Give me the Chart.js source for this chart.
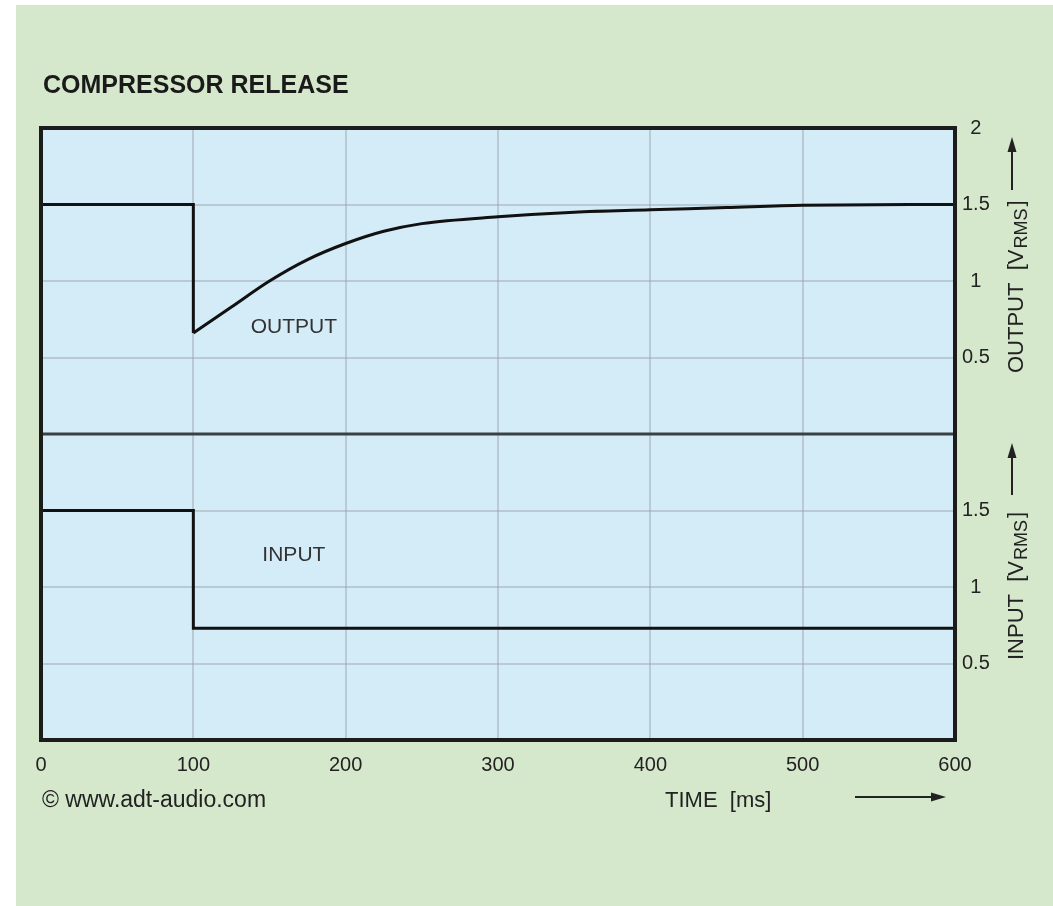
<!DOCTYPE html>
<html>
<head>
<meta charset="utf-8">
<script src="https://cdn.jsdelivr.net/npm/chart.js@4.4.1/dist/chart.umd.min.js"></script>
<style>
  html, body { margin: 0; padding: 0; background: #ffffff; }
  #panel { position: absolute; left: 16px; top: 5px; right: 0; bottom: 0; background: #d6e8cc; }
  #wrap { position: absolute; left: 0; top: 0; width: 1053px; height: 906px; }
</style>
</head>
<body>
<div id="panel"></div>
<div id="wrap"><canvas id="chart" width="1053" height="906"></canvas></div>
<script>
// time axis ticks (ms) and level ticks (V rms)
const timeTicks = [0, 100, 200, 300, 400, 500, 600];
const levelTicks = [0.5, 1, 1.5, 2];

// output: step down at 100 ms, then release back to 1.5 V
const outTime  = [0, 100, 100, 125, 150, 175, 200, 225, 250, 300, 350, 400, 450, 500, 600];
const outLevel = [1.5, 1.5, 0.66, 0.83, 1.0, 1.14, 1.245, 1.325, 1.375, 1.42, 1.45, 1.465, 1.48, 1.495, 1.5];

// input: step down at 100 ms
const inTime  = [0, 100, 100, 600];
const inLevel = [1.5, 1.5, 0.73, 0.73];

const FONT = '"Liberation Sans", Arial, sans-serif';
const INK = '#222222';

const pts = (xs, ys) => xs.map((x, i) => ({ x, y: ys[i] }));

const lineStyle = {
    borderColor: '#111111',
    borderWidth: 3,
    pointRadius: 0,
    fill: false,
    borderJoinStyle: 'miter'
};

function arrow(ctx, x1, y1, x2, y2) {
    const a = Math.atan2(y2 - y1, x2 - x1);
    ctx.beginPath();
    ctx.moveTo(x1, y1);
    ctx.lineTo(x2 - 10 * Math.cos(a), y2 - 10 * Math.sin(a));
    ctx.lineWidth = 2;
    ctx.strokeStyle = INK;
    ctx.stroke();
    ctx.beginPath();
    ctx.moveTo(x2, y2);
    ctx.lineTo(x2 - 15 * Math.cos(a) + 4.5 * Math.sin(a), y2 - 15 * Math.sin(a) - 4.5 * Math.cos(a));
    ctx.lineTo(x2 - 15 * Math.cos(a) - 4.5 * Math.sin(a), y2 - 15 * Math.sin(a) + 4.5 * Math.cos(a));
    ctx.closePath();
    ctx.fillStyle = INK;
    ctx.fill();
}

function vTitle(ctx, x, y, main) {
    ctx.save();
    ctx.translate(x, y);
    ctx.rotate(-Math.PI / 2);
    ctx.fillStyle = INK;
    ctx.textAlign = 'left';
    ctx.textBaseline = 'alphabetic';
    ctx.font = '22px ' + FONT;
    const t1 = main + '  [V';
    ctx.fillText(t1, 0, 0);
    let w = ctx.measureText(t1).width;
    ctx.font = '18px ' + FONT;
    ctx.fillText('RMS', w + 1, 4);
    w += ctx.measureText('RMS').width + 1;
    ctx.font = '22px ' + FONT;
    ctx.fillText(']', w + 2, 0);
    ctx.restore();
}

const decor = {
    id: 'decor',
    beforeDraw(chart) {
        const { ctx, chartArea: a } = chart;
        ctx.save();
        ctx.fillStyle = '#d4ebf8';
        ctx.fillRect(a.left, a.top, a.right - a.left, a.bottom - a.top);
        ctx.restore();
    },
    afterDraw(chart) {
        const { ctx, chartArea: a, scales } = chart;
        ctx.save();
        // divider between output and input panels
        const yd = scales.yIn.top;
        ctx.strokeStyle = '#3a4141';
        ctx.lineWidth = 3;
        ctx.beginPath();
        ctx.moveTo(a.left, yd);
        ctx.lineTo(a.right, yd);
        ctx.stroke();
        // frame
        ctx.strokeStyle = '#1c1c1c';
        ctx.lineWidth = 4;
        ctx.strokeRect(a.left, a.top, a.right - a.left, a.bottom - a.top);

        // title
        ctx.fillStyle = '#1a1a1a';
        ctx.font = 'bold 25px ' + FONT;
        ctx.textAlign = 'left';
        ctx.textBaseline = 'alphabetic';
        ctx.fillText('COMPRESSOR RELEASE', 43, 93);

        // footer
        ctx.fillStyle = INK;
        ctx.font = '23px ' + FONT;
        ctx.fillText('\u00A9 www.adt-audio.com', 42, 807);
        ctx.font = '22px ' + FONT;
        ctx.fillText('TIME  [ms]', 665, 807);
        arrow(ctx, 855, 797, 946, 797);

        // labels inside the plot
        ctx.fillStyle = '#333333';
        ctx.font = '21px ' + FONT;
        ctx.textAlign = 'center';
        ctx.textBaseline = 'middle';
        ctx.fillText('OUTPUT', scales.x.getPixelForValue(166), scales.yOut.getPixelForValue(0.7));
        ctx.fillText('INPUT', scales.x.getPixelForValue(166), scales.yIn.getPixelForValue(1.21));

        // right-hand axis titles
        vTitle(ctx, 1023, 373, 'OUTPUT');
        arrow(ctx, 1012, 190, 1012, 137);
        vTitle(ctx, 1023, 660, 'INPUT');
        arrow(ctx, 1012, 495, 1012, 443);
        ctx.restore();
    }
};

const gridStyle = { color: 'rgba(150,158,162,0.42)', lineWidth: 2, drawTicks: false };
const tickFont = { family: FONT, size: 20 };

function levelAxis(hideTop) {
    return {
        type: 'linear',
        position: 'right',
        stack: 'levels',
        stackWeight: 1,
        min: 0,
        max: 2,
        border: { display: false },
        grid: gridStyle,
        afterBuildTicks: s => { s.ticks = levelTicks.filter(v => !(hideTop && v === 2)).map(v => ({ value: v })); },
        afterFit: s => { s.width = 60; },
        ticks: {
            color: INK,
            font: tickFont,
            padding: 7,
            crossAlign: 'center',
            callback: v => String(v)
        }
    };
}

new Chart(document.getElementById('chart'), {
    type: 'line',
    data: {
        datasets: [
            { ...lineStyle, label: 'OUTPUT', yAxisID: 'yOut', tension: 0, data: pts(outTime.slice(0, 3), outLevel.slice(0, 3)) },
            { ...lineStyle, label: 'OUTPUT release', yAxisID: 'yOut', cubicInterpolationMode: 'monotone', data: pts(outTime.slice(2), outLevel.slice(2)) },
            { ...lineStyle, label: 'INPUT', yAxisID: 'yIn', tension: 0, data: pts(inTime, inLevel) }
        ]
    },
    options: {
        responsive: false,
        animation: false,
        layout: { padding: { left: 41, top: 128, right: 38, bottom: 126 } },
        plugins: {
            legend: { display: false },
            tooltip: { enabled: false }
        },
        scales: {
            x: {
                type: 'linear',
                min: 0,
                max: 600,
                border: { display: false },
                grid: gridStyle,
                afterBuildTicks: s => { s.ticks = timeTicks.map(v => ({ value: v })); },
                afterFit: s => { s.height = 40; },
                ticks: { color: INK, font: tickFont, padding: 13, maxRotation: 0 }
            },
            yOut: levelAxis(false),
            yIn: levelAxis(true)
        }
    },
    plugins: [decor]
});
</script>
</body>
</html>
